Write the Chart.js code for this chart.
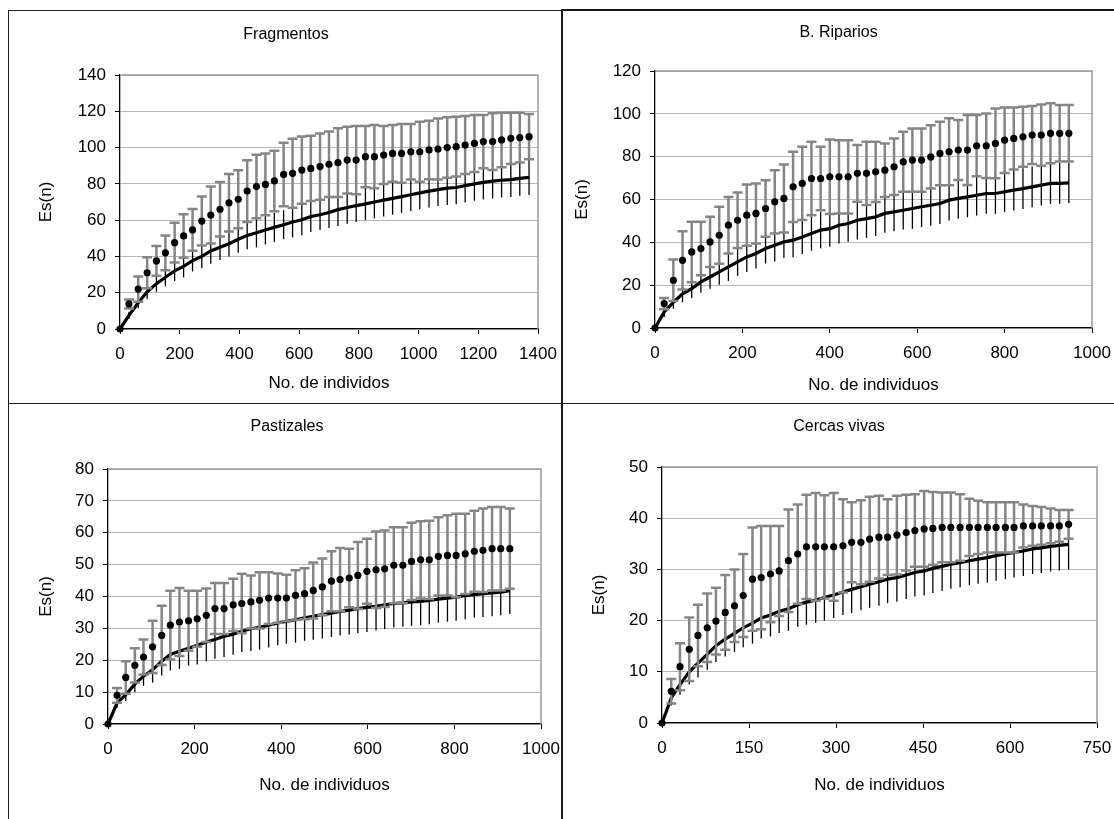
<!DOCTYPE html>
<html>
<head>
<meta charset="utf-8">
<script src="https://cdn.jsdelivr.net/npm/chart.js@4.4.0/dist/chart.umd.min.js"></script>
<style>
  html, body { margin: 0; padding: 0; background: #fff; }
  body { width: 1114px; height: 819px; position: relative; overflow: hidden; }
  canvas { position: absolute; }
  .ln { position: absolute; background: #1a1a1a; }
</style>
</head>
<body>
<div class="ln" style="left:8px;top:10px;width:554px;height:1px;"></div>
<div class="ln" style="left:562px;top:9px;width:552px;height:2px;"></div>
<div class="ln" style="left:8px;top:10px;width:1px;height:809px;"></div>
<div class="ln" style="left:561px;top:9px;width:2px;height:810px;"></div>
<div class="ln" style="left:8px;top:403px;width:1106px;height:1px;"></div>

<canvas id="c1" width="565" height="391" style="left:9px;top:11px;"></canvas>
<canvas id="c2" width="561" height="392" style="left:563px;top:10px;"></canvas>
<canvas id="c3" width="565" height="415" style="left:9px;top:404px;"></canvas>
<canvas id="c4" width="566" height="415" style="left:563px;top:404px;"></canvas>

<script>
// ---------- DATA ----------
// Fragmentos
const fragX = [0,30,61,91,122,152,183,213,243,274,304,335,365,396,426,457,487,517,548,578,609,639,670,700,730,761,791,822,852,883,913,943,974,1004,1035,1065,1096,1126,1156,1187,1217,1248,1278,1309,1339,1370];
const fragDots = [0,13.8,22,31,37.5,42,47.6,51.3,54.6,59.5,62.8,66,69.6,71.5,76,78.5,79.7,81.6,85.2,85.8,87.6,88.5,89.5,90.8,91.7,93.1,93.1,95,95,95.9,96.8,96.8,97.7,97.7,98.7,99.2,100,100.5,101.4,102.3,103.3,103.3,104.2,105.1,105.5,106];
const fragDotsSD = [0,2.5,7,8.5,8.2,9.6,11,12,11.5,13.5,15.7,15,15.8,16,17,17.5,17,16.7,17.5,19,18.5,18,18.3,18,19,18.4,18.8,16.9,17.4,16,15.6,16.2,15.3,16.6,16.1,16.8,16.7,16.5,16,15.7,14.7,15.6,15,14.1,13.7,12.5];
const fragLine = [0,7.5,14.5,20.5,25,28.5,32,34.5,37.7,40,43,45,47,49.5,51.5,53,54.6,56,57.5,59,60.2,62,63,64.2,65.8,67,68,69,70,71,72,73,74,75,76,76.8,77.6,78,79,80,80.8,81.5,82,82.3,83,83.6];
const fragLineSD = [0,2,3,4,4.5,5,5.5,6,6,6.5,7,7,7,7.5,7.5,8,8,8,8,8.5,8.5,8.5,8.5,8.5,9,9,9,9,9,9,9,9,9,9,9,9,9.2,9.2,9.3,9.3,9.4,9.5,9.5,9.6,9.6,9.7];

// B. Riparios
const ripX = [0,21,42,63,84,105,126,147,168,189,210,231,253,274,295,316,337,358,379,400,421,442,463,484,505,526,547,568,589,610,631,652,673,694,715,736,758,779,800,821,842,863,884,905,926,947];
const ripDots = [0,11.4,22.3,31.6,35.5,37.1,40.2,43.3,48,50.3,52.7,53.5,55.8,58.9,60.5,65.9,67.5,69.8,69.8,70.6,70.6,70.6,72.2,72.2,72.9,73.7,75.3,77.6,78.4,78.4,79.9,81.5,82.3,83.1,83.1,85.1,85.1,86.2,87.7,88.5,89.3,90.1,90.1,90.9,90.9,90.9];
const ripDotsSD = [0,2.6,9.7,13.6,14.1,12.5,11.7,13.3,13.2,13,14.3,14,13.2,14.8,15.9,16.4,17.1,17.2,14.8,17.4,17.1,17.1,13.2,14.8,14.1,12.5,13.2,14,14.8,14.8,14.8,14.8,15.6,14,16.3,14.3,15.1,16.3,15.3,14.5,14,13.5,14.3,14,13.2,13.2];
const ripLine = [0,7.5,12,16,18.4,21.5,23.8,26.2,28.5,30.9,33.2,34.8,37.1,38.6,40.2,41,42.5,44.1,45.7,46.4,48,48.8,50.3,51.1,51.9,53.5,54.2,55,55.8,56.6,57.3,58.1,59.7,60.5,61.2,62,62.8,62.8,63.6,64.4,65.1,65.9,66.7,67.5,67.5,67.8];
const ripLineSD = [0,2.5,3,4,4.5,5,5.5,6,6.5,6.5,7,7,7,7.5,7.5,8,8,8,8.5,8.5,8.5,8.5,9,9,9,9,9,9,9.5,9.5,9.5,9.5,9.5,9.5,9.5,9.5,9.5,9.5,9.5,9.5,9.5,9.5,9.5,9.5,9.5,9.4];

// Pastizales
const pastX = [0,21,41,62,82,103,124,144,165,186,206,227,247,268,289,309,330,350,371,392,412,433,454,474,495,516,536,557,577,598,619,639,660,681,701,722,742,763,784,804,825,846,866,887,907,928];
const pastDots = [0,9,14.6,18.4,21,24.2,27.8,31,32,32.4,33,34.1,36.2,36.2,37.4,37.8,38.3,38.8,39.5,39.5,39.5,40.4,40.9,41.9,43,44.8,45.3,45.8,46.6,47.9,48.4,48.7,49.8,49.8,51,51.5,51.5,52.6,52.9,52.9,53.4,54.2,54.5,55,55,55];
const pastDotsSD = [0,2.3,5.1,5.4,5.5,8.2,9.3,10.8,10.7,9.4,8.8,8.4,8,8,8.2,9.3,8.3,8.8,8.1,7.7,7.3,7.8,8,8.8,8.9,9.4,9.9,9.2,10.5,10.2,12,12,11.9,11.9,12.1,12.1,12.3,12.3,12.6,13.1,12.6,12.7,13.1,13.1,13.1,12.6];
const pastLine = [0,6.6,9.2,12.5,15,17,19.7,21.8,22.8,23.8,24.7,25.7,26.5,27.5,28.2,29.1,29.9,30.3,31,31.7,32.2,32.7,33.3,33.8,34.3,34.8,35.3,35.7,36.2,36.6,36.9,37.4,37.8,38,38.3,38.5,38.8,39.2,39.5,39.8,40.3,40.6,40.9,41.1,41.4,41.8];
const pastLineSD = [0,1.5,2,2.5,3,4,4.5,5,5.5,5.5,6,6,6,6.5,6.5,6.5,7,7,7,7,7,7.2,7.2,7.4,7.5,7.5,7.5,7.6,7.7,7.7,7.6,7.6,7.5,7.5,7.5,7.5,7.5,7.4,7.4,7.4,7.4,7.3,7.3,7.3,7.3,7.3];

// Cercas vivas
const cercX = [0,16,31,47,62,78,93,109,125,140,156,171,187,202,218,234,249,265,280,296,312,327,343,358,374,389,405,421,436,452,467,483,498,514,530,545,561,576,592,607,623,639,654,670,685,701];
const cercDots = [0,6.2,11,14.4,17.1,18.6,19.9,21.6,22.9,24.9,28.1,28.4,29.1,29.7,31.7,33,34.4,34.4,34.4,34.4,34.6,35.3,35.3,35.9,36.3,36.3,36.7,37.2,37.6,37.9,38,38.2,38.2,38.2,38.2,38.2,38.2,38.2,38.2,38.2,38.5,38.5,38.5,38.5,38.5,38.8];
const cercDotsSD = [0,2.4,4.6,6.2,6,6.7,6.5,7.3,7.1,8.1,10.1,10.1,9.4,8.8,10,9.7,10.2,10.5,10.1,10.5,9.1,7.8,8.2,8.3,8.1,7.4,7.7,7.4,7.1,7.4,7.1,6.8,6.8,6.5,5.6,5.2,4.9,4.9,4.9,4.9,4.2,3.9,3.7,3.4,3.1,2.8];
const cercLine = [0,4.9,7.5,10,11.7,13.4,15.1,16.4,17.5,18.6,19.5,20.5,21.1,21.8,22.3,23.1,23.6,24,24.5,25,25.6,26.1,26.6,27.1,27.6,28.1,28.4,28.9,29.4,29.7,30.2,30.6,31,31.3,31.7,32,32.3,32.7,33,33.3,33.6,34,34.2,34.5,34.7,34.9];
const cercLineSD = [0,1.5,2,2.5,2.8,3,3.2,3.4,3.6,3.8,4,4,4.2,4.2,4.3,4.3,4.4,4.4,4.5,4.5,4.5,4.6,4.6,4.6,4.7,4.7,4.7,4.7,4.7,4.8,4.8,4.8,4.8,4.8,4.8,4.8,4.9,4.9,4.9,4.9,4.9,4.9,4.9,4.9,4.9,4.9];

// Titles and axis ranges
const panelTitles = ["Fragmentos", "B. Riparios", "Pastizales", "Cercas vivas"];
const xTitles = ["No. de individos", "No. de individuos", "No. de individuos", "No. de individuos"];
const yTitle = "Es(n)";
const xMax = [1400, 1000, 1000, 750];
const xStep = [200, 200, 200, 150];
const yMax = [140, 120, 80, 50];
const yStep = [20, 20, 10, 10];

// ---------- STYLE / LAYOUT ----------
Chart.defaults.font.family = "'Liberation Sans', Arial, Helvetica, sans-serif";
Chart.defaults.color = '#000';

const GREY = '#858585';

const errPlugin = {
  id: 'errbars',
  beforeDatasetDraw(chart, args) {
    const ds = chart.data.datasets[args.index];
    if (!ds.errors) return;
    const ctx = chart.ctx;
    const ys = chart.scales.y;
    ctx.save();
    ctx.strokeStyle = ds.errColor;
    ctx.lineWidth = ds.errWidth;
    ctx.lineCap = 'butt';
    args.meta.data.forEach((pt, i) => {
      const e = ds.errors[i];
      if (!e) return;
      const v = ds.data[i].y;
      const x = pt.x;
      const yT = ys.getPixelForValue(v + e);
      const yB = ys.getPixelForValue(v - e);
      ctx.beginPath();
      ctx.moveTo(x, yT); ctx.lineTo(x, yB);
      if (ds.capWidth) {
        const h = ds.capWidth / 2;
        ctx.moveTo(x - h, yT); ctx.lineTo(x + h, yT);
        ctx.moveTo(x - h, yB); ctx.lineTo(x + h, yB);
      }
      ctx.stroke();
    });
    ctx.restore();
  },
  beforeDatasetsDraw(chart) {
    const {ctx, chartArea: a} = chart;
    ctx.save();
    ctx.strokeStyle = '#9a9a9a';
    ctx.lineWidth = 1.5;
    ctx.beginPath();
    ctx.moveTo(a.left, a.top); ctx.lineTo(a.right, a.top); ctx.lineTo(a.right, a.bottom);
    ctx.stroke();
    ctx.restore();
  }
};

const plainNum = (v) => String(v);

function makeChart(id, k, xs, dots, dotsSD, line, lineSD, geo) {
  const pts = (arr) => xs.map((x, i) => ({x: x, y: arr[i]}));
  new Chart(document.getElementById(id), {
    type: 'line',
    data: {
      datasets: [
        {
          label: 'dots', data: pts(dots), showLine: false,
          pointRadius: 3.6, pointHoverRadius: 3.6, pointBackgroundColor: '#000', pointBorderWidth: 0,
          borderColor: '#000', clip: false,
          errors: dotsSD, errColor: GREY, errWidth: 2.5, capWidth: 10
        },
        {
          label: 'line', data: pts(line), borderColor: '#000', borderWidth: 3.2,
          pointRadius: 0, tension: 0, clip: false,
          errors: lineSD, errColor: '#000', errWidth: 1.3, capWidth: 0
        }
      ]
    },
    options: {
      responsive: false, animation: false, devicePixelRatio: 1,
      layout: {padding: {left: geo.padL, right: geo.padR, top: 0, bottom: 0}},
      plugins: {
        legend: {display: false}, tooltip: {enabled: false},
        title: {display: true, text: panelTitles[k], color: '#000',
                font: {size: 16, weight: 'normal', lineHeight: 1.2},
                padding: {top: geo.tTop, bottom: geo.tBot}}
      },
      scales: {
        x: {
          type: 'linear', min: 0, max: xMax[k],
          ticks: {stepSize: xStep[k], font: {size: 17}, padding: 10, maxRotation: 0, color: '#000', callback: plainNum},
          grid: {drawOnChartArea: false, drawTicks: true, tickLength: 5, tickColor: '#000', tickWidth: 1},
          border: {display: true, color: '#000', width: 1.3},
          title: {display: true, text: xTitles[k], color: '#000', font: {size: 17, lineHeight: 1.2},
                  padding: {top: 0, bottom: geo.xtBot}},
          afterFit: (s) => { s.height = geo.xH; }
        },
        y: {
          type: 'linear', min: 0, max: yMax[k],
          ticks: {stepSize: yStep[k], font: {size: 17}, padding: 9, color: '#000', callback: plainNum},
          grid: {color: '#b8b8b8', lineWidth: 1, drawTicks: true, tickLength: 5, tickColor: '#000', tickWidth: 1},
          border: {display: true, color: '#000', width: 1.3},
          title: {display: true, text: yTitle, color: '#000', font: {size: 17, lineHeight: 1.2},
                  padding: {top: geo.ytTop, bottom: 0}},
          afterFit: (s) => { s.width = geo.yW; }
        }
      }
    },
    plugins: [errPlugin]
  });
}

makeChart('c1', 0, fragX, fragDots, fragDotsSD, fragLine, fragLineSD,
  {padL: 25, padR: 36, tTop: 14.4, tBot: 30.4, xH: 73, xtBot: 8.8, yW: 86, ytTop: 1.8});
makeChart('c2', 1, ripX, ripDots, ripDotsSD, ripLine, ripLineSD,
  {padL: 22, padR: 32, tTop: 13.4, tBot: 28.4, xH: 74, xtBot: 6.8, yW: 70, ytTop: -13.2});
makeChart('c3', 2, pastX, pastDots, pastDotsSD, pastLine, pastLineSD,
  {padL: 24, padR: 33, tTop: 13.4, tBot: 32.4, xH: 95, xtBot: 23.8, yW: 75, ytTop: 2.8});
makeChart('c4', 3, cercX, cercDots, cercDotsSD, cercLine, cercLineSD,
  {padL: 18, padR: 32, tTop: 13.4, tBot: 30.4, xH: 96, xtBot: 23.8, yW: 81, ytTop: 7.8});
</script>
</body>
</html>
